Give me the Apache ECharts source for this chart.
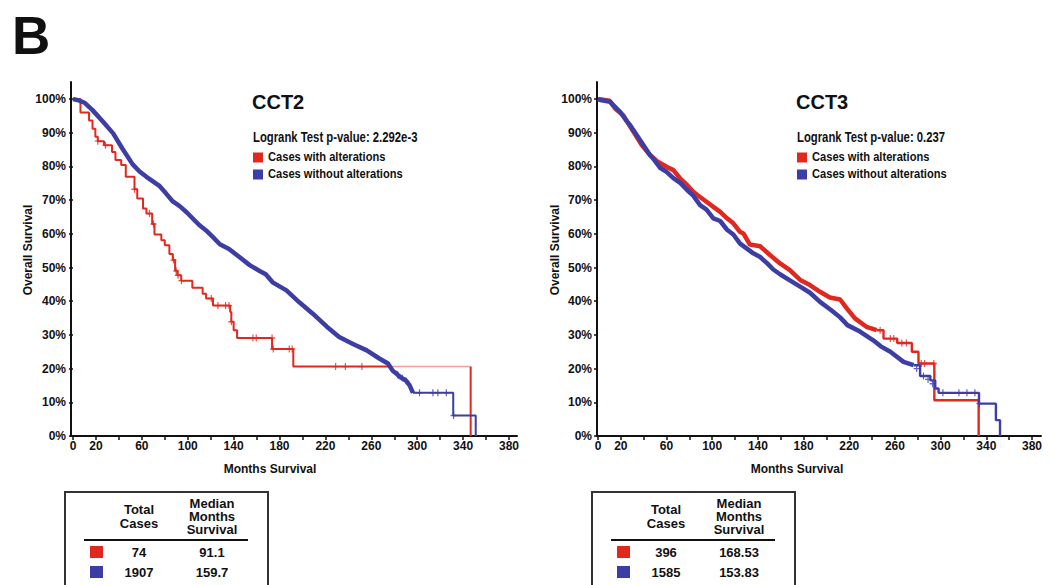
<!DOCTYPE html>
<html><head><meta charset="utf-8">
<script src="https://cdn.jsdelivr.net/npm/echarts@6/dist/echarts.min.js"></script>
<style>html,body{margin:0;padding:0;background:#fff;}#c{width:1051px;height:585px;}</style>
</head><body><div id="c"></div>
<script>
// ---------- data ----------
const xTickLabels = [0, 20, 60, 100, 140, 180, 220, 260, 300, 340, 380];
const panelTitles = ['CCT2', 'CCT3'];
const pValues = ['2.292e-3', '0.237'];
const groupNames = ['Cases with alterations', 'Cases without alterations'];
const totalCases = [[74, 1907], [396, 1585]];
const medianMonths = [['91.1', '159.7'], ['168.53', '153.83']];

// CCT2 – cases with alterations (KM steps: [month, survival %])
const cct2Altered = [[0,100],[6.5,96.0],[14,93.6],[17,91.2],[19.5,88.8],[21.6,87.5],[27,86.3],[34,84.3],[37,81.9],[42,80.4],[46,76.9],[53.6,73.2],[56,70.5],[61,67.5],[64,66.0],[69,62.9],[71,59.8],[77,58.1],[80,56.6],[84,54.0],[87,52.2],[89,49.0],[91,47.7],[94.3,46.1],[104,44.0],[113,42.2],[116,40.8],[122,38.7],[137,36.8],[138,33.9],[140,31.4],[143,29.1],[173.5,25.8],[192,20.6],[274.5,20.6]];
const cct2AlteredTail = [[274.5,20.6],[346.6,20.6]];
const cct2AlteredDrop = [[346.6,20.6],[346.6,0]];
const cct2AlteredCensored = [[21.6,87.5],[28.3,86.3],[53.6,73.2],[66.7,66.0],[70.2,62.9],[87.6,52.2],[89.9,49.0],[91.5,47.7],[94.5,46.1],[120.5,40.8],[126.3,38.7],[133,38.7],[136,38.7],[138,33.9],[156.8,29.1],[159.7,29.1],[173.5,29.1],[174.5,25.8],[188.5,25.8],[191,25.8],[228.9,20.6],[237.4,20.6],[251.8,20.6]];
// CCT2 – cases without alterations
const cct2Unaltered = [[0,100],[5,99.6],[10,98.9],[17,96.7],[26,93.3],[35,89.8],[43,85.3],[52,80.6],[58,78.5],[64,76.9],[75,74.3],[81,72.0],[87,69.6],[93,68.2],[99,66.4],[110,62.6],[116,61.0],[122,59.0],[128,56.9],[136,55.5],[145,53.1],[154,50.7],[163,48.9],[168,48.0],[174,45.6],[186,43.2],[197.5,39.6],[209,36.3],[221,32.5],[232,29.4],[244,27.3],[256,25.4],[267,23.0],[274.5,21.5],[278.8,19.3],[282,18.5],[285,17.5],[290,16.5],[293.4,15.0],[296.3,12.8]];
const cct2UnalteredTail = [[296.3,12.8],[331.4,6.1],[351,0]];
const cct2UnalteredCensored = [[283,18.2],[287,17.2],[290.5,16.3],[302,12.8],[313.7,12.8],[318,12.8],[325.4,12.8],[331.7,6.1]];

// CCT3 – cases with alterations
const cct3Altered = [[0,100],[10,99.5],[15,97.2],[22,95.2],[31,90.3],[38.3,86.3],[45.5,83.4],[52,81.5],[60,79.9],[66,78.9],[72,76.4],[78,74.5],[83.4,72.5],[89,71.0],[95,69.5],[101,68.0],[107,66.5],[113,64.6],[118.5,63.1],[124.3,60.6],[127.3,60.1],[133,56.8],[142,56.3],[150.6,53.7],[159.4,51.2],[168,49.2],[177,46.3],[185.6,44.8],[194.4,42.8],[203,41.1],[212,40.5],[218,37.8],[225,34.9],[235,32.4],[244,31.4]];
const cct3AlteredTail = [[244,31.4],[250,28.9],[262,27.6],[274.8,25.0],[280.6,21.5],[294.5,10.6],[333.3,0]];
const cct3AlteredCensored = [[247,31.4],[256,28.9],[259,28.9],[266,27.6],[270,27.6],[283,21.5],[286,21.5],[294,21.5]];
// CCT3 – cases without alterations
const cct3Unaltered = [[0,100],[2,99.7],[10.5,99.2],[13.4,98.2],[19.3,96.2],[25,93.5],[28,92.3],[36.8,87.8],[45.5,83.4],[48.4,82.3],[54.3,79.6],[60,78.4],[66,76.5],[72,75.1],[78,73.0],[83.4,71.3],[89.4,68.5],[95,67.2],[101,64.6],[107,63.8],[113,61.2],[118.5,59.8],[124.4,57.1],[136,54.2],[142,53.1],[148,51.3],[153.5,49.4],[159.4,48.0],[168,46.2],[177,44.3],[185.6,42.5],[194.4,39.8],[204,37.4],[212,35.2],[218.4,32.9],[229.4,31.0],[241,28.4],[247.6,26.6],[256,25.0],[267.5,22.0],[276.3,21.0]];
const cct3UnalteredTail = [[276.3,21.0],[282,17.8],[291,16.5],[295.3,14.1],[298.2,12.8],[333.6,9.6],[348.4,4.7],[352,0]];
const cct3UnalteredCensored = [[279,20.0],[285,17.8],[289,16.8],[293,15.5],[302,12.8],[316,12.8],[323,12.8],[330,12.8],[334,9.6]];

// ---------- style ----------
const RED = '#e1281e', RED_PALE = '#f2a09a', BLUE = '#3d3da6', INK = '#111';
const FONT = "'Liberation Sans', Arial, Helvetica, sans-serif";
const PLUS = 'path://M4,0H6V4H10V6H6V10H4V6H0V4H4Z';

const dataGrids = [{left: 73, top: 99, width: 436, height: 337}, {left: 598, top: 99, width: 434, height: 337}];
const frameGrids = [{left: 71, top: 82, width: 446, height: 354}, {left: 597, top: 82, width: 444, height: 354}];

function dataXAxis(i) {
  return {gridIndex: i, type: 'value', min: 0, max: 380, interval: 20,
    axisLine: {show: false}, splitLine: {show: false},
    axisTick: {show: true, length: 4, lineStyle: {color: INK, width: 1.5}},
    axisLabel: {margin: 4, fontSize: 12, fontWeight: 'bold', fontFamily: FONT, color: INK,
      formatter: v => xTickLabels.includes(v) ? String(v) : ''}};
}
function dataYAxis(i) {
  return {gridIndex: i, type: 'value', min: 0, max: 100, interval: 10, offset: i === 0 ? 2 : 1,
    axisLine: {show: false}, splitLine: {show: false},
    axisTick: {show: true, length: 4, lineStyle: {color: INK, width: 1.5}},
    axisLabel: {margin: 5, fontSize: 12, fontWeight: 'bold', fontFamily: FONT, color: INK, formatter: '{value}%'}};
}
function frameAxis(i) {
  return {gridIndex: i, type: 'value', min: 0, max: 1, axisLine: {show: true, onZero: false, lineStyle: {color: INK, width: 2}},
    axisTick: {show: false}, axisLabel: {show: false}, splitLine: {show: false}};
}

function line(name, data, axis, color, width, step, z) {
  return {type: 'line', name, data, xAxisIndex: axis, yAxisIndex: axis, step: step || false,
    showSymbol: false, symbol: 'none', lineStyle: {color, width}, itemStyle: {color}, z: z || 2, silent: true};
}
function censor(name, data, axis, color) {
  return {type: 'scatter', name, data, xAxisIndex: axis, yAxisIndex: axis, symbol: PLUS, symbolSize: [6, 7],
    itemStyle: {color}, z: 3, silent: true};
}

const series = [
  // CCT2
  line(groupNames[0], cct2Altered, 0, RED, 2, 'end', 2),
  line(groupNames[0], cct2AlteredTail, 0, RED_PALE, 1.5, false, 2),
  line(groupNames[0], cct2AlteredDrop, 0, RED, 2, false, 2),
  censor(groupNames[0], cct2AlteredCensored, 0, RED),
  line(groupNames[1], cct2Unaltered, 0, BLUE, 4.5, false, 4),
  line(groupNames[1], cct2UnalteredTail, 0, BLUE, 2, 'end', 4),
  censor(groupNames[1], cct2UnalteredCensored, 0, BLUE),
  // CCT3
  line(groupNames[0], cct3Altered, 1, RED, 4.5, false, 2),
  line(groupNames[0], cct3AlteredTail, 1, RED, 2.4, 'end', 2),
  censor(groupNames[0], cct3AlteredCensored, 1, RED),
  line(groupNames[1], cct3Unaltered, 1, BLUE, 4.5, false, 4),
  line(groupNames[1], cct3UnalteredTail, 1, BLUE, 2.4, 'end', 4),
  censor(groupNames[1], cct3UnalteredCensored, 1, BLUE)
];

// ---------- text / legend / table graphics ----------
function txt(text, x, y, size, style, extra) {
  return Object.assign({type: 'text', x, y, silent: true,
    style: Object.assign({text, fontSize: size, fontWeight: 'bold', fontFamily: FONT, fill: INK,
      align: 'left', verticalAlign: 'middle'}, style || {})}, extra || {});
}
const graphics = [txt('B', 12, 35, 53)];
[0, 1].forEach(p => {
  const tx = p === 0 ? 252 : 796;           // title block x
  const ax = p === 0 ? 0 : 527;             // axis-name / table shift
  graphics.push(txt(panelTitles[p], tx, 102, 20));
  graphics.push(txt('Logrank Test p-value: ' + pValues[p], tx + 1, 137, 14.5, null, {scaleX: 0.78}));
  // legend
  [0, 1].forEach(r => {
    const cy = 157.5 + r * 17;
    graphics.push({type: 'rect', silent: true, shape: {x: tx + 1, y: cy - 5, width: 10, height: 10},
      style: {fill: r === 0 ? RED : BLUE}});
    graphics.push(txt(groupNames[r], tx + 16, cy - 1, 12.5, null, {scaleX: 0.89}));
  });
  graphics.push(txt('Months Survival', 270 + ax, 469, 12, {align: 'center'}));
  graphics.push(txt('Overall Survival', 28 + ax, 250, 12, {align: 'center'}, {rotation: Math.PI / 2}));
  // table
  graphics.push({type: 'rect', silent: true, shape: {x: 65 + ax, y: 492, width: 203, height: 130},
    style: {fill: 'none', stroke: '#333', lineWidth: 2}});
  graphics.push(txt('Total', 139 + ax, 509, 13, {align: 'center'}));
  graphics.push(txt('Cases', 139 + ax, 523, 13, {align: 'center'}));
  graphics.push(txt('Median', 212 + ax, 503, 13, {align: 'center'}));
  graphics.push(txt('Months', 212 + ax, 516, 13, {align: 'center'}));
  graphics.push(txt('Survival', 212 + ax, 529, 13, {align: 'center'}));
  graphics.push({type: 'line', silent: true, shape: {x1: 84 + ax, y1: 540, x2: 248 + ax, y2: 540},
    style: {stroke: INK, lineWidth: 2}});
  [0, 1].forEach(r => {
    const cy = 552 + r * 20;
    graphics.push({type: 'rect', silent: true, shape: {x: 90 + ax, y: cy - 6, width: 13, height: 12},
      style: {fill: r === 0 ? RED : BLUE}});
    graphics.push(txt(String(totalCases[p][r]), 139 + ax, cy, 13, {align: 'center'}));
    graphics.push(txt(medianMonths[p][r], 212 + ax, cy, 13, {align: 'center'}));
  });
});

const chart = echarts.init(document.getElementById('c'), null, {renderer: 'svg', width: 1051, height: 585});
chart.setOption({
  animation: false,
  backgroundColor: '#fff',
  grid: [...dataGrids, ...frameGrids],
  xAxis: [dataXAxis(0), dataXAxis(1), frameAxis(2), frameAxis(3)],
  yAxis: [dataYAxis(0), dataYAxis(1), frameAxis(2), frameAxis(3)],
  series,
  graphic: graphics
});
</script></body></html>
